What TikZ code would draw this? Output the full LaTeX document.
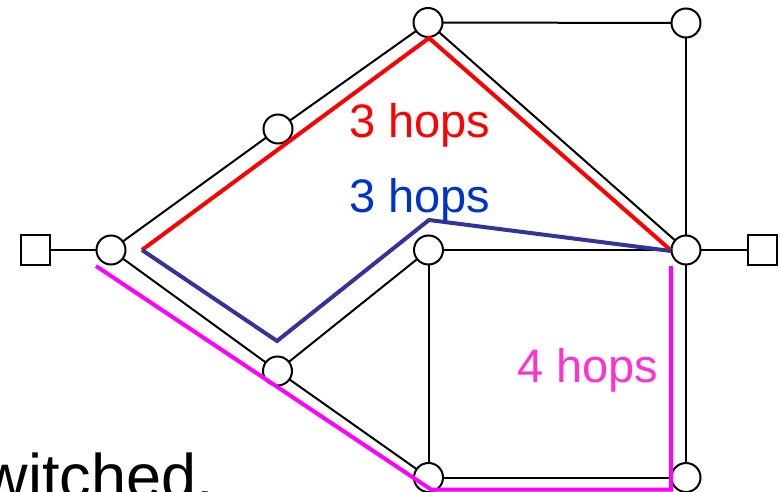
\documentclass[tikz,border=0pt]{standalone}
\usepackage{fontspec}
\setmainfont{Liberation Sans}
\definecolor{pathblue}{HTML}{333399}
\definecolor{textblue}{HTML}{0033CC}
\definecolor{textmag}{HTML}{FF33CC}
\definecolor{pathmag}{HTML}{FF00FF}
\definecolor{pathred}{HTML}{FF0000}
\begin{document}
\begin{tikzpicture}[x=1pt,y=-1pt,
  router/.style={draw,circle,fill=white,line width=2pt,minimum size=29pt,inner sep=0pt},
  host/.style={draw,rectangle,fill=white,line width=2pt,minimum size=29pt,inner sep=0pt},
  link/.style={line width=2pt},
  route/.style={line width=4pt,line join=miter},
  hoplabel/.style={font=\fontsize{47}{56}\selectfont,inner sep=0pt,anchor=base west}]
\useasboundingbox (0,0) rectangle (780,492);
\clip (0,0) rectangle (780,492);
% node positions
\coordinate (pS1) at (35.5,250);
\coordinate (pS2) at (762,250);
\coordinate (pA) at (111,250);
\coordinate (pB) at (278,129);
\coordinate (pC) at (428,22.5);
\coordinate (pD) at (686,23);
\coordinate (pE) at (686,250);
\coordinate (pF) at (428.5,250);
\coordinate (pG) at (277.5,371);
\coordinate (pH) at (428.5,477.5);
\coordinate (pI) at (686,477.5);
% links (drawn first, nodes on top)
\draw[link] (pS1) -- (pA);
\draw[link] (pA) -- (pB);
\draw[link] (pB) -- (pC);
\draw[link] (pC) -- (pD);
\draw[link] (pD) -- (pE);
\draw[link] (pC) -- (pE);
\draw[link] (pA) -- (pG);
\draw[link] (pG) -- (pF);
\draw[link] (pG) -- (pH);
\draw[link] (pF) -- (pE);
\draw[link] (pF) -- (pH);
\draw[link] (pH) -- (pI);
\draw[link] (pI) -- (pE);
\draw[link] (pE) -- (pS2);
% nodes
\node[host] (S1) at (pS1) {};
\node[host] (S2) at (pS2) {};
\node[router] (A) at (pA) {};
\node[router] (B) at (pB) {};
\node[router] (C) at (pC) {};
\node[router] (D) at (pD) {};
\node[router] (E) at (pE) {};
\node[router] (F) at (pF) {};
\node[router] (G) at (pG) {};
\node[router] (H) at (pH) {};
\node[router] (I) at (pI) {};
% route corners
\coordinate (r1) at (142,250);
\coordinate (r2) at (429,38);
\coordinate (r3) at (670.5,250);
\coordinate (b1) at (142,250);
\coordinate (b2) at (277,341);
\coordinate (b3) at (429,220);
\coordinate (b4) at (671,251);
\coordinate (m1) at (96,266);
\coordinate (m2) at (431,489.5);
\coordinate (m3) at (671,489.5);
\coordinate (m4) at (671,266);
% routes
\draw[route,pathred] (r1) -- (r2) -- (r3);
\draw[route,pathblue] (b1) -- (b2) -- (b3) -- (b4);
\draw[route,pathmag] (m1) -- (m2) -- (m3) -- (m4);
% labels
\node[hoplabel,pathred] (l1) at (349,138) {3 hops};
\node[hoplabel,textblue] (l2) at (349,213) {3 hops};
\node[hoplabel,textmag] (l3) at (517,382) {4 hops};
\node[font=\fontsize{63}{75}\selectfont,inner sep=0pt,anchor=base east] (sw) at (214,498) {witched.};
\end{tikzpicture}
\end{document}
